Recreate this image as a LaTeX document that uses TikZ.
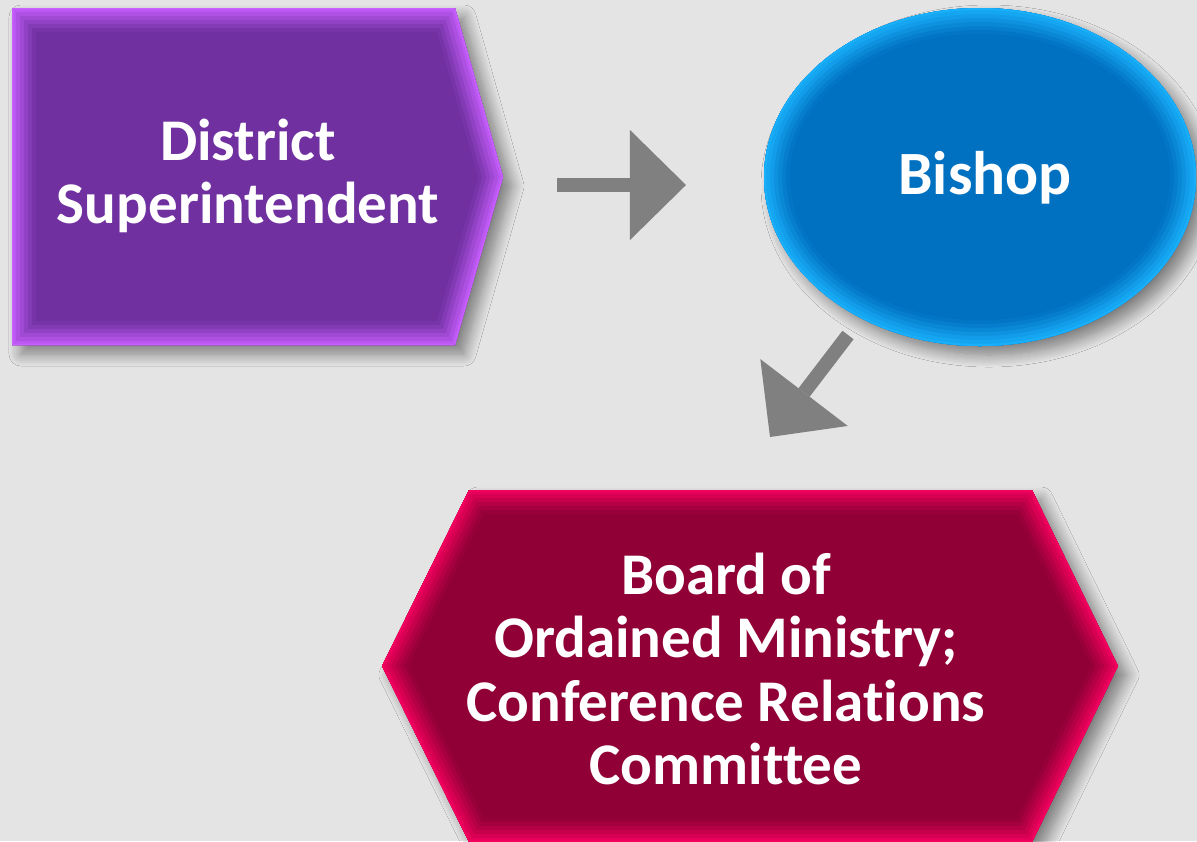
\documentclass[tikz,border=0pt]{standalone}
\usepackage{fontspec}
\setmainfont[Ligatures=NoCommon]{Carlito}
\usetikzlibrary{arrows.meta,shadows.blur}
\definecolor{back_gray}{RGB}{228,228,228}
\definecolor{arrow_gray}{RGB}{128,128,128}
\definecolor{node_purple}{RGB}{112,48,160}
\definecolor{edge_purple}{RGB}{200,95,255}
\definecolor{node_blue}{RGB}{0,112,192}
\definecolor{edge_blue}{RGB}{25,175,250}
\definecolor{node_red}{RGB}{144,0,54}
\definecolor{edge_red}{RGB}{245,0,95}
\newcommand\dspath{(12,8) -- (455,8) -- (503,177) -- (455,345) -- (12,345) -- cycle}
\newcommand\bishoppath{(980,177) ellipse [x radius=216, y radius=169]}
\newcommand\bompath{(469,490) -- (1032,490) -- (1118,666) -- (1032,842) -- (469,842) -- (382,666) -- cycle}

\begin{document}
\begin{tikzpicture}[x=0.01cm,y=-0.01cm]
    \tikzstyle{txt}=[text=white,align=center,font=\bfseries\fontsize{16.8pt}{18pt}\selectfont]
    \tikzstyle{drop}=[blur shadow={shadow xshift=0.09cm,shadow yshift=-0.09cm,shadow blur radius=0.12cm,shadow blur steps=12,shadow opacity=45}]
    \tikzstyle{bigarrow}=[line width=0.14cm,draw=arrow_gray,-{Triangle[length=0.56cm,width=1.1cm,line width=0pt]}]

    \useasboundingbox (0,0) rectangle (1197,841);
    \clip (0,0) rectangle (1197,841);
    \fill[back_gray] (0,0) rectangle (1197,841);

    % shapes with bevelled rims
    \fill[node_purple,drop] \dspath;
    \fill[node_blue,drop] \bishoppath;
    \fill[node_red,drop] \bompath;
    \begin{scope}
      \clip \dspath;
      \foreach \w/\c in {0.48cm/8,0.40cm/22,0.32cm/38,0.24cm/54,0.16cm/70,0.08cm/86,0.03cm/100}
        \draw[line width=\w,line join=miter,edge_purple!\c!node_purple] \dspath;
    \end{scope}
    \begin{scope}
      \clip \bishoppath;
      \foreach \w/\c in {0.52cm/8,0.44cm/22,0.36cm/38,0.28cm/54,0.20cm/70,0.12cm/86,0.04cm/100}
        \draw[line width=\w,edge_blue!\c!node_blue] \bishoppath;
    \end{scope}
    \begin{scope}
      \clip \bompath;
      \foreach \w/\c in {0.48cm/8,0.40cm/22,0.32cm/38,0.24cm/54,0.16cm/70,0.08cm/86,0.03cm/100}
        \draw[line width=\w,line join=miter,edge_red!\c!node_red] \bompath;
    \end{scope}

    \node[txt] (ds) at (248,176) {District\\Superintendent};
    \node[txt,font=\bfseries\fontsize{17.5pt}{18pt}\selectfont] (bp) at (985,178) {Bishop};
    \node[txt] (bom) at (726,669) {Board of\\Ordained Ministry;\\Conference Relations\\Committee};

    \coordinate (r1) at (557,185);
    \coordinate (r2) at (686,185);
    \coordinate (d1) at (848,335);
    \coordinate (d2) at (770,437);
    \draw[bigarrow] (r1) -- (r2);
    \draw[bigarrow] (d1) -- (d2);
\end{tikzpicture}
\end{document}
